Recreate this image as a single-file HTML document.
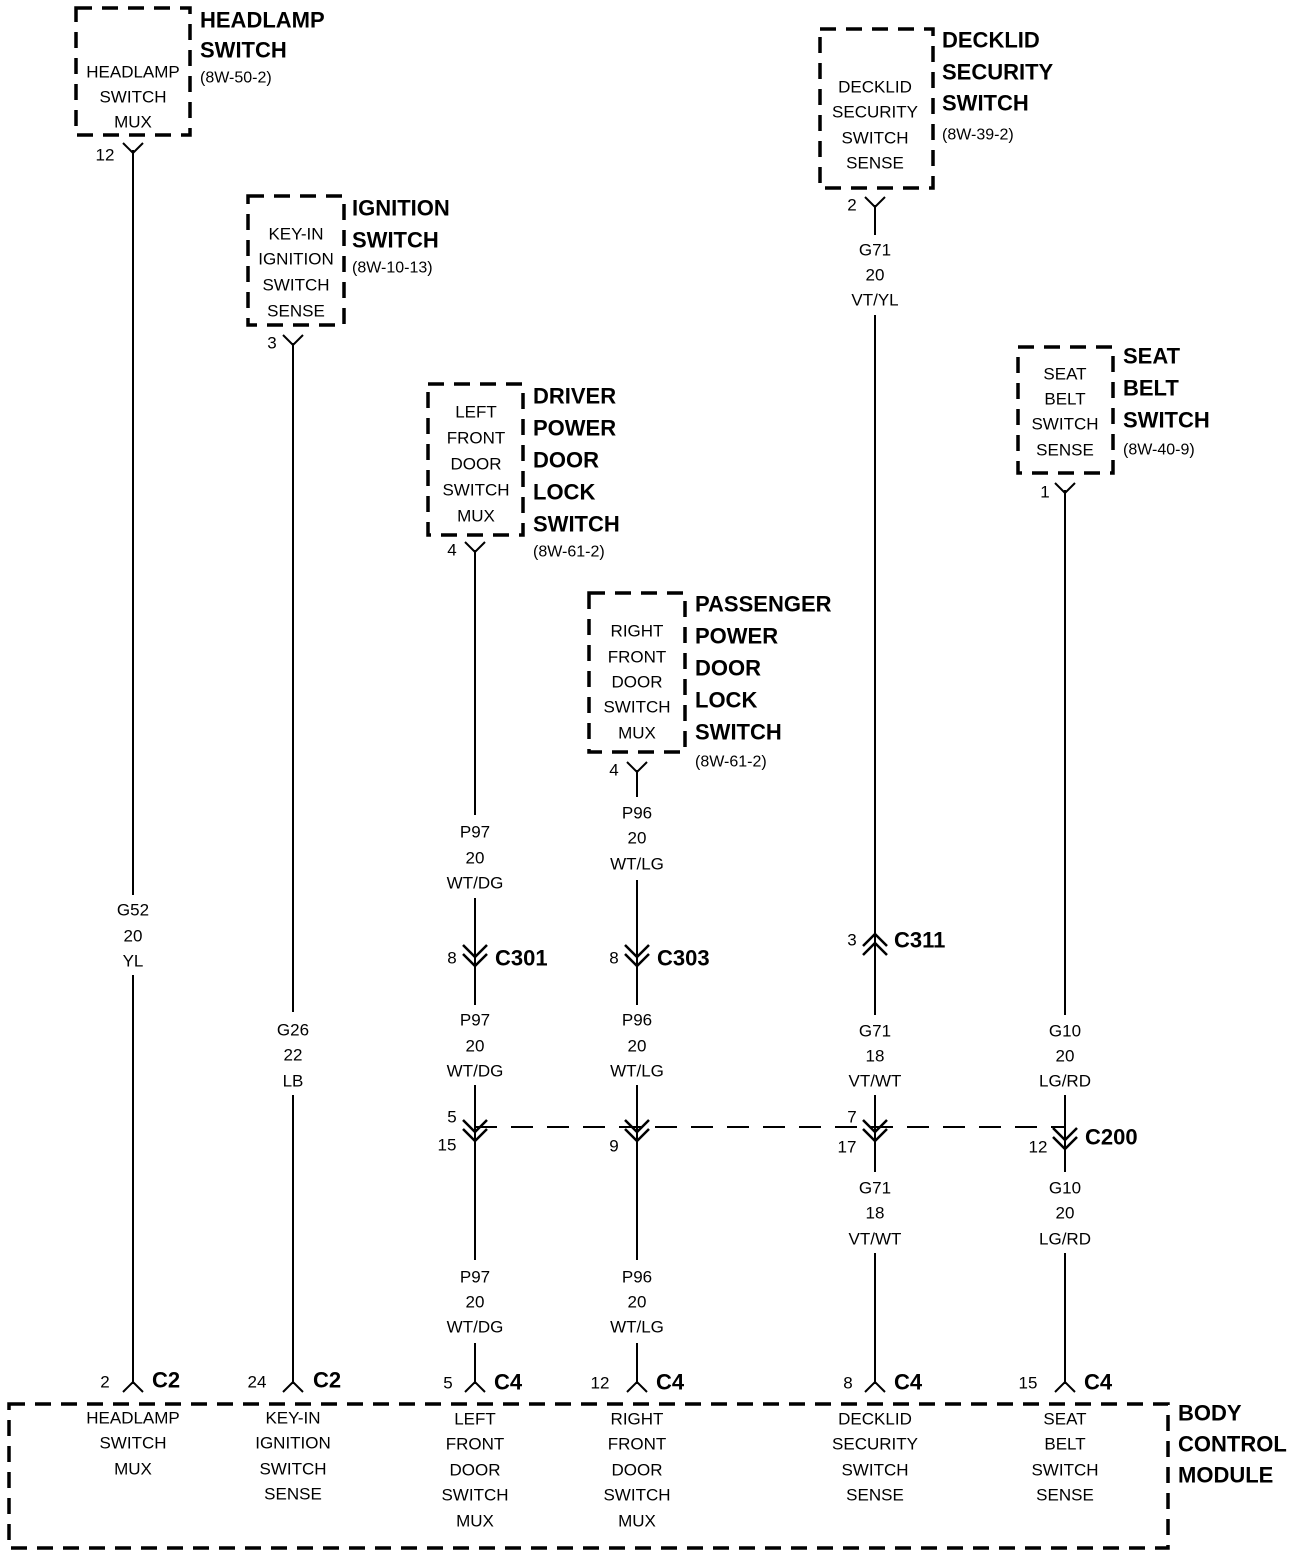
<!DOCTYPE html>
<html><head><meta charset="utf-8"><style>
html,body{margin:0;padding:0;background:#fff}
svg{display:block}
text{font-family:"Liberation Sans",sans-serif;font-size:17px;fill:#000;dominant-baseline:central}
.c{text-anchor:middle}
.b{font-weight:bold;font-size:22px}
.s{font-size:16px}
</style></head><body>
<svg width="1312" height="1560" viewBox="0 0 1312 1560" xmlns="http://www.w3.org/2000/svg">
<g fill="none" stroke="#000" stroke-width="3.5" stroke-dasharray="16 10">
<rect x="76" y="8" width="114" height="127"/>
<rect x="248" y="196" width="96" height="129"/>
<rect x="428" y="384" width="95" height="151"/>
<rect x="589" y="593" width="96" height="159"/>
<rect x="820" y="29" width="113" height="159"/>
<rect x="1018" y="347" width="95" height="126"/>
<rect x="9" y="1404" width="1159" height="144"/>
</g>
<path d="M475,1127 H1065" stroke="#000" stroke-width="2" stroke-dasharray="22 14" fill="none"/>
<g stroke="#000" stroke-width="2" fill="none">
<path d="M133,150V895M133,975V1384"/>
<path d="M293,343V1012M293,1095V1384"/>
<path d="M475,550V815M475,898V1005M475,1085V1260M475,1343V1384"/>
<path d="M637,770V797M637,880V1005M637,1085V1260M637,1343V1384"/>
<path d="M875,205V235M875,315V1015M875,1095V1172M875,1253V1384"/>
<path d="M1065,490V1015M1065,1095V1172M1065,1253V1384"/>
<path d="M123,143L133,153L143,143"/>
<path d="M283,335L293,345L303,335"/>
<path d="M465,542L475,552L485,542"/>
<path d="M627,762L637,772L647,762"/>
<path d="M865,197L875,207L885,197"/>
<path d="M1055,483L1065,493L1075,483"/>
<path d="M123,1392L133,1382L143,1392"/>
<path d="M283,1392L293,1382L303,1392"/>
<path d="M465,1392L475,1382L485,1392"/>
<path d="M627,1392L637,1382L647,1392"/>
<path d="M865,1392L875,1382L885,1392"/>
<path d="M1055,1392L1065,1382L1075,1392"/>
</g>
<g stroke="#000" stroke-width="2.5" fill="none">
<path d="M463,945L475,957L487,945M463,954L475,966L487,954"/>
<path d="M625,945L637,957L649,945M625,954L637,966L649,954"/>
<path d="M863,946L875,934L887,946M863,955L875,943L887,955"/>
<path d="M463,1120L475,1132L487,1120M463,1129L475,1141L487,1129"/>
<path d="M625,1120L637,1132L649,1120M625,1129L637,1141L649,1129"/>
<path d="M863,1120L875,1132L887,1120M863,1129L875,1141L887,1129"/>
<path d="M1053,1128L1065,1140L1077,1128M1053,1137L1065,1149L1077,1137"/>
</g>
<g class="c">
<text x="133" y="72" class="c">HEADLAMP</text><text x="133" y="97" class="c">SWITCH</text><text x="133" y="122" class="c">MUX</text>
<text x="296" y="234" class="c">KEY-IN</text><text x="296" y="259" class="c">IGNITION</text><text x="296" y="285" class="c">SWITCH</text><text x="296" y="311" class="c">SENSE</text>
<text x="476" y="412" class="c">LEFT</text><text x="476" y="438" class="c">FRONT</text><text x="476" y="464" class="c">DOOR</text><text x="476" y="490" class="c">SWITCH</text><text x="476" y="516" class="c">MUX</text>
<text x="637" y="631" class="c">RIGHT</text><text x="637" y="657" class="c">FRONT</text><text x="637" y="682" class="c">DOOR</text><text x="637" y="707" class="c">SWITCH</text><text x="637" y="733" class="c">MUX</text>
<text x="875" y="87" class="c">DECKLID</text><text x="875" y="112" class="c">SECURITY</text><text x="875" y="138" class="c">SWITCH</text><text x="875" y="163" class="c">SENSE</text>
<text x="1065" y="374" class="c">SEAT</text><text x="1065" y="399" class="c">BELT</text><text x="1065" y="424" class="c">SWITCH</text><text x="1065" y="450" class="c">SENSE</text>
</g>
<text x="200" y="20" class="b">HEADLAMP</text><text x="200" y="50" class="b">SWITCH</text><text x="200" y="78" class="s">(8W-50-2)</text>
<text x="352" y="208" class="b">IGNITION</text><text x="352" y="240" class="b">SWITCH</text><text x="352" y="268" class="s">(8W-10-13)</text>
<text x="533" y="396" class="b">DRIVER</text><text x="533" y="428" class="b">POWER</text><text x="533" y="460" class="b">DOOR</text><text x="533" y="492" class="b">LOCK</text><text x="533" y="524" class="b">SWITCH</text><text x="533" y="552" class="s">(8W-61-2)</text>
<text x="695" y="604" class="b">PASSENGER</text><text x="695" y="636" class="b">POWER</text><text x="695" y="668" class="b">DOOR</text><text x="695" y="700" class="b">LOCK</text><text x="695" y="732" class="b">SWITCH</text><text x="695" y="762" class="s">(8W-61-2)</text>
<text x="942" y="40" class="b">DECKLID</text><text x="942" y="72" class="b">SECURITY</text><text x="942" y="103" class="b">SWITCH</text><text x="942" y="135" class="s">(8W-39-2)</text>
<text x="1123" y="356" class="b">SEAT</text><text x="1123" y="388" class="b">BELT</text><text x="1123" y="420" class="b">SWITCH</text><text x="1123" y="450" class="s">(8W-40-9)</text>
<text x="1178" y="1413" class="b">BODY</text><text x="1178" y="1444" class="b">CONTROL</text><text x="1178" y="1475" class="b">MODULE</text>
<text x="105" y="155" class="c">12</text><text x="272" y="343" class="c">3</text><text x="452" y="550" class="c">4</text><text x="614" y="770" class="c">4</text><text x="852" y="205" class="c">2</text><text x="1045" y="492" class="c">1</text>
<text x="452" y="958" class="c">8</text><text x="495" y="958" class="b">C301</text>
<text x="614" y="958" class="c">8</text><text x="657" y="958" class="b">C303</text>
<text x="852" y="940" class="c">3</text><text x="894" y="940" class="b">C311</text>
<text x="452" y="1117" class="c">5</text><text x="447" y="1145" class="c">15</text>
<text x="614" y="1146" class="c">9</text>
<text x="852" y="1117" class="c">7</text><text x="847" y="1147" class="c">17</text>
<text x="1038" y="1147" class="c">12</text><text x="1085" y="1137" class="b">C200</text>
<text x="105" y="1382" class="c">2</text><text x="152" y="1380" class="b">C2</text>
<text x="257" y="1382" class="c">24</text><text x="313" y="1380" class="b">C2</text>
<text x="448" y="1383" class="c">5</text><text x="494" y="1382" class="b">C4</text>
<text x="600" y="1383" class="c">12</text><text x="656" y="1382" class="b">C4</text>
<text x="848" y="1383" class="c">8</text><text x="894" y="1382" class="b">C4</text>
<text x="1028" y="1383" class="c">15</text><text x="1084" y="1382" class="b">C4</text>
<g>
<text x="133" y="910" class="c">G52</text><text x="133" y="936" class="c">20</text><text x="133" y="961" class="c">YL</text>
<text x="293" y="1030" class="c">G26</text><text x="293" y="1055" class="c">22</text><text x="293" y="1081" class="c">LB</text>
<text x="475" y="832" class="c">P97</text><text x="475" y="858" class="c">20</text><text x="475" y="883" class="c">WT/DG</text>
<text x="475" y="1020" class="c">P97</text><text x="475" y="1046" class="c">20</text><text x="475" y="1071" class="c">WT/DG</text>
<text x="475" y="1277" class="c">P97</text><text x="475" y="1302" class="c">20</text><text x="475" y="1327" class="c">WT/DG</text>
<text x="637" y="813" class="c">P96</text><text x="637" y="838" class="c">20</text><text x="637" y="864" class="c">WT/LG</text>
<text x="637" y="1020" class="c">P96</text><text x="637" y="1046" class="c">20</text><text x="637" y="1071" class="c">WT/LG</text>
<text x="637" y="1277" class="c">P96</text><text x="637" y="1302" class="c">20</text><text x="637" y="1327" class="c">WT/LG</text>
<text x="875" y="250" class="c">G71</text><text x="875" y="275" class="c">20</text><text x="875" y="300" class="c">VT/YL</text>
<text x="875" y="1031" class="c">G71</text><text x="875" y="1056" class="c">18</text><text x="875" y="1081" class="c">VT/WT</text>
<text x="875" y="1188" class="c">G71</text><text x="875" y="1213" class="c">18</text><text x="875" y="1239" class="c">VT/WT</text>
<text x="1065" y="1031" class="c">G10</text><text x="1065" y="1056" class="c">20</text><text x="1065" y="1081" class="c">LG/RD</text>
<text x="1065" y="1188" class="c">G10</text><text x="1065" y="1213" class="c">20</text><text x="1065" y="1239" class="c">LG/RD</text>
</g>
<text x="133" y="1418" class="c">HEADLAMP</text><text x="133" y="1443" class="c">SWITCH</text><text x="133" y="1469" class="c">MUX</text>
<text x="293" y="1418" class="c">KEY-IN</text><text x="293" y="1443" class="c">IGNITION</text><text x="293" y="1469" class="c">SWITCH</text><text x="293" y="1494" class="c">SENSE</text>
<text x="475" y="1419" class="c">LEFT</text><text x="475" y="1444" class="c">FRONT</text><text x="475" y="1470" class="c">DOOR</text><text x="475" y="1495" class="c">SWITCH</text><text x="475" y="1521" class="c">MUX</text>
<text x="637" y="1419" class="c">RIGHT</text><text x="637" y="1444" class="c">FRONT</text><text x="637" y="1470" class="c">DOOR</text><text x="637" y="1495" class="c">SWITCH</text><text x="637" y="1521" class="c">MUX</text>
<text x="875" y="1419" class="c">DECKLID</text><text x="875" y="1444" class="c">SECURITY</text><text x="875" y="1470" class="c">SWITCH</text><text x="875" y="1495" class="c">SENSE</text>
<text x="1065" y="1419" class="c">SEAT</text><text x="1065" y="1444" class="c">BELT</text><text x="1065" y="1470" class="c">SWITCH</text><text x="1065" y="1495" class="c">SENSE</text>
</svg>
</body></html>
